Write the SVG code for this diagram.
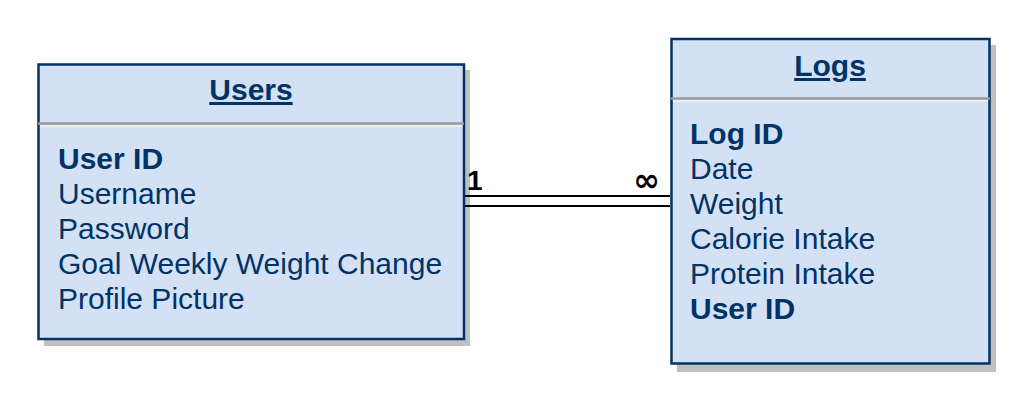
<svg xmlns="http://www.w3.org/2000/svg" width="1033" height="410" viewBox="0 0 1033 410">
<style>
.shadow{fill:#c0c0c0;}
.box{fill:#d4e1f5;stroke:#003366;stroke-width:2.5;}
.div1{stroke:#9a9a9a;stroke-width:2.5;}
.div2{stroke:#eeeeee;stroke-width:2;}
.title{font-family:"Liberation Sans",Arial,sans-serif;font-size:30px;font-weight:bold;fill:#003366;text-anchor:middle;text-decoration:underline;}
.attr{font-family:"Liberation Sans",Arial,sans-serif;font-size:30px;fill:#003366;}
.key{font-weight:bold;}
.conn{stroke:#000;stroke-width:2.2;fill:none;}
.card{font-family:"Liberation Sans",Arial,sans-serif;font-size:28px;font-weight:bold;fill:#000;}
.inf{font-family:"DejaVu Sans",sans-serif;font-size:32px;font-weight:bold;fill:#000;text-anchor:end;}
</style>
<rect width="1033" height="410" fill="#ffffff"/>
<g id="users">
<rect class="shadow" x="44" y="70" width="426" height="276"/>
<rect class="box" x="38.5" y="64.5" width="425.5" height="274.5"/>
<line class="div1" x1="38" y1="123.5" x2="464" y2="123.5"/>
<line class="div2" x1="40" y1="126" x2="462" y2="126"/>
<text class="title" x="251" y="100">Users</text>
<text class="attr key" x="58" y="169">User ID</text>
<text class="attr" x="58" y="204">Username</text>
<text class="attr" x="58" y="239">Password</text>
<text class="attr" x="58" y="274">Goal Weekly Weight Change</text>
<text class="attr" x="58" y="309">Profile Picture</text>
</g>
<g id="logs">
<rect class="shadow" x="677" y="45" width="319" height="327"/>
<rect class="box" x="671.5" y="39" width="318" height="324.5"/>
<line class="div1" x1="671" y1="98.5" x2="990" y2="98.5"/>
<line class="div2" x1="673" y1="101" x2="988" y2="101"/>
<text class="title" x="830" y="76">Logs</text>
<text class="attr key" x="690" y="144">Log ID</text>
<text class="attr" x="690" y="179">Date</text>
<text class="attr" x="690" y="214">Weight</text>
<text class="attr" x="690" y="249">Calorie Intake</text>
<text class="attr" x="690" y="284">Protein Intake</text>
<text class="attr key" x="690" y="319">User ID</text>
</g>
<g id="connectors">
<line class="conn" x1="465" y1="196" x2="670" y2="196"/>
<line class="conn" x1="465" y1="206" x2="670" y2="206"/>
<text class="card" x="467" y="190">1</text>
<text class="inf" x="660" y="191">∞</text>
</g>
</svg>
